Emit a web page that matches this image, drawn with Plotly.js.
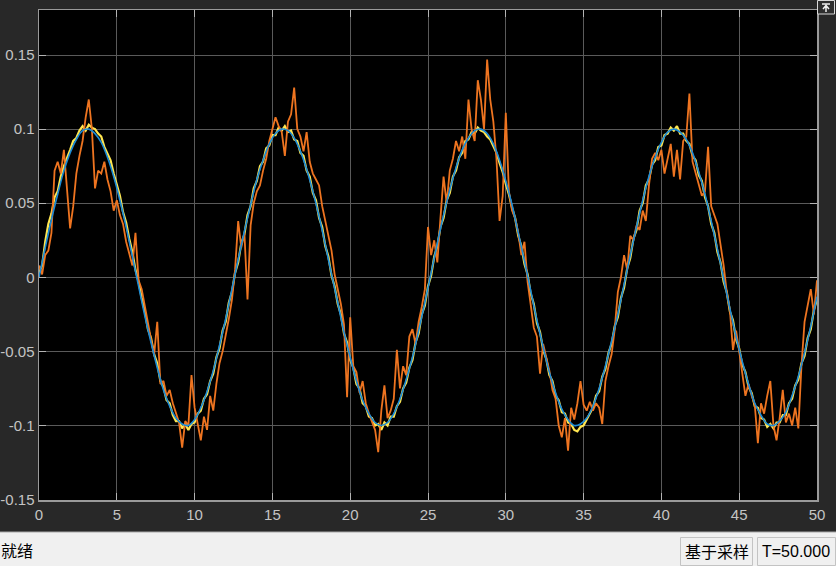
<!DOCTYPE html>
<html>
<head>
<meta charset="utf-8">
<script src="https://cdn.plot.ly/plotly-3.0.1.min.js"></script>
<style>
html,body{margin:0;padding:0;background:#282828;}
#chart{width:836px;height:566px;}
</style>
</head>
<body>
<div id="chart"></div>
<script>
// ---- data ----
const sampleStepFine = 0.2;   // time step of yellow & orange samples
const sampleStepBlue = 0.4;   // time step of the blue reference samples

const blueRef = [
 0.000,0.020,0.039,0.056,0.072,0.084,0.093,0.099,0.100,0.097,
 0.091,0.081,0.068,0.052,0.034,0.014,-0.006,-0.026,-0.044,-0.061,
 -0.076,-0.087,-0.095,-0.099,-0.100,-0.096,-0.088,-0.077,-0.063,-0.046,
 -0.028,-0.008,0.012,0.031,0.049,0.066,0.079,0.090,0.097,0.100,
 0.099,0.094,0.085,0.073,0.058,0.041,0.022,0.002,-0.017,-0.037,
 -0.054,-0.070,-0.083,-0.092,-0.098,-0.100,-0.098,-0.092,-0.082,-0.069,
 -0.054,-0.036,-0.017,0.003,0.023,0.042,0.059,0.074,0.086,0.094,
 0.099,0.100,0.097,0.090,0.079,0.065,0.049,0.030,0.011,-0.009,
 -0.029,-0.047,-0.064,-0.078,-0.089,-0.096,-0.100,-0.099,-0.095,-0.087,
 -0.075,-0.060,-0.043,-0.025,-0.005,0.015,0.034,0.052,0.068,0.081,
 0.091,0.098,0.100,0.098,0.093,0.084,0.071,0.056,0.038,0.019,
 -0.001,-0.021,-0.040,-0.057,-0.072,-0.085,-0.093,-0.099,-0.100,-0.097,
 -0.091,-0.080,-0.067,-0.051,-0.033,-0.013
];

const yellowEst = [
 0.003,0.008,0.024,0.036,0.043,0.054,0.058,0.068,0.075,0.080,
 0.086,0.092,0.094,0.099,0.102,0.099,0.103,0.101,0.100,0.097,
 0.095,0.088,0.084,0.079,0.070,0.063,0.055,0.044,0.037,0.026,
 0.017,0.005,-0.003,-0.014,-0.023,-0.035,-0.041,-0.052,-0.058,-0.070,
 -0.074,-0.083,-0.085,-0.093,-0.097,-0.097,-0.102,-0.099,-0.103,-0.099,
 -0.098,-0.092,-0.090,-0.082,-0.079,-0.070,-0.065,-0.054,-0.048,-0.036,
 -0.030,-0.017,-0.010,0.003,0.010,0.023,0.029,0.042,0.048,0.060,
 0.065,0.075,0.078,0.087,0.089,0.096,0.096,0.101,0.099,0.102,
 0.098,0.099,0.093,0.092,0.084,0.082,0.072,0.068,0.057,0.052,
 0.040,0.034,0.021,0.014,0.001,-0.006,-0.018,-0.025,-0.038,-0.044,
 -0.056,-0.061,-0.072,-0.075,-0.085,-0.087,-0.094,-0.095,-0.100,-0.099,
 -0.103,-0.098,-0.100,-0.094,-0.094,-0.087,-0.084,-0.075,-0.071,-0.061,
 -0.056,-0.044,-0.038,-0.025,-0.019,-0.006,0.001,0.014,0.021,0.034,
 0.040,0.052,0.057,0.068,0.072,0.081,0.084,0.092,0.093,0.098,
 0.097,0.101,0.099,0.098,0.095,0.093,0.088,0.084,0.077,0.071,
 0.063,0.056,0.047,0.040,0.028,0.021,0.009,0.002,-0.011,-0.018,
 -0.031,-0.037,-0.049,-0.055,-0.066,-0.070,-0.080,-0.083,-0.091,-0.092,
 -0.098,-0.099,-0.103,-0.104,-0.101,-0.100,-0.096,-0.092,-0.088,-0.080,
 -0.077,-0.067,-0.062,-0.051,-0.045,-0.033,-0.027,-0.014,-0.007,0.006,
 0.013,0.026,0.032,0.045,0.050,0.062,0.066,0.076,0.079,0.088,
 0.089,0.096,0.097,0.101,0.099,0.102,0.097,0.097,0.092,0.090,
 0.082,0.079,0.069,0.065,0.054,0.048,0.036,0.030,0.017,0.010,
 -0.003,-0.010,-0.023,-0.029,-0.042,-0.048,-0.059,-0.064,-0.074,-0.078,
 -0.087,-0.088,-0.095,-0.096,-0.101,-0.099,-0.102,-0.098,-0.098,-0.093,
 -0.093,-0.085,-0.082,-0.073,-0.069,-0.058,-0.053,-0.041,-0.035,-0.022,
 -0.015
];

const orangeMeas = [
 0.008,0.002,0.015,0.018,0.030,0.072,0.078,0.070,0.086,0.060,
 0.033,0.048,0.070,0.082,0.092,0.108,0.120,0.100,0.060,0.072,
 0.070,0.078,0.066,0.058,0.045,0.052,0.042,0.036,0.024,0.016,
 0.008,0.030,-0.002,-0.008,-0.020,-0.030,-0.042,-0.052,-0.030,-0.072,
 -0.070,-0.080,-0.076,-0.085,-0.092,-0.098,-0.115,-0.097,-0.100,-0.066,
 -0.088,-0.100,-0.110,-0.094,-0.103,-0.080,-0.090,-0.072,-0.058,-0.050,
 -0.040,-0.028,-0.015,0.005,0.038,0.020,0.030,-0.015,0.035,0.050,
 0.058,0.062,0.072,0.080,0.092,0.100,0.108,0.102,0.098,0.082,
 0.105,0.110,0.128,0.100,0.095,0.085,0.098,0.078,0.070,0.066,
 0.062,0.048,0.038,0.028,0.018,0.002,-0.008,-0.018,-0.032,-0.081,
 -0.027,-0.060,-0.064,-0.078,-0.070,-0.085,-0.092,-0.098,-0.103,-0.118,
 -0.090,-0.073,-0.095,-0.090,-0.082,-0.049,-0.075,-0.060,-0.066,-0.040,
 -0.035,-0.045,-0.030,-0.020,-0.008,0.034,0.015,0.025,0.010,0.040,
 0.068,0.050,0.072,0.080,0.092,0.085,0.095,0.080,0.120,0.100,
 0.092,0.133,0.120,0.100,0.147,0.120,0.105,0.080,0.038,0.055,
 0.111,0.058,0.045,0.040,0.030,0.015,0.024,-0.003,-0.020,-0.034,
 -0.040,-0.065,-0.045,-0.055,-0.063,-0.076,-0.082,-0.100,-0.108,-0.095,
 -0.117,-0.088,-0.096,-0.085,-0.070,-0.086,-0.090,-0.084,-0.090,-0.085,
 -0.088,-0.099,-0.070,-0.060,-0.052,-0.035,-0.010,0.000,0.015,0.005,
 0.028,0.025,0.035,0.032,0.045,0.038,0.062,0.080,0.084,0.079,
 0.086,0.070,0.080,0.090,0.068,0.086,0.066,0.092,0.095,0.124,
 0.078,0.070,0.062,0.055,0.058,0.088,0.048,0.042,0.036,0.022,
 0.008,-0.010,-0.022,-0.049,-0.036,-0.050,-0.065,-0.080,-0.072,-0.080,
 -0.086,-0.112,-0.085,-0.092,-0.080,-0.070,-0.100,-0.110,-0.095,-0.076,
 -0.098,-0.092,-0.100,-0.088,-0.102,-0.060,-0.030,-0.020,-0.008,-0.025,
 -0.002
];

const xTickVals = [0,5,10,15,20,25,30,35,40,45,50];
const xTickText = ['0','5','10','15','20','25','30','35','40','45','50'];
const yTickVals = [-0.15,-0.1,-0.05,0,0.05,0.1,0.15];
const yTickText = ['-0.15','-0.1','-0.05','0','0.05','0.1','0.15'];

const statusLeft = '就绪';
const statusMode = '基于采样';
const statusTime = 'T=50.000';

// ---- layout helpers (pixel -> paper) ----
const W = 836, H = 566, L = 39, R = 817, T = 10, B = 500;
const px = x => (x - L) / (R - L);
const py = y => (B - y) / (B - T);

const traces = [
  {type:'scatter', mode:'lines', x0:0, dx:sampleStepFine, y:yellowEst,
   line:{color:'#ffe650', width:2.2}, hoverinfo:'skip'},
  {type:'scatter', mode:'lines', x0:0, dx:sampleStepFine, y:orangeMeas,
   line:{color:'#ee7420', width:1.8}, hoverinfo:'skip'},
  {type:'scatter', mode:'lines', x0:0, dx:sampleStepBlue, y:blueRef,
   line:{color:'#1a8ad6', width:1.6, shape:'spline'}, hoverinfo:'skip'}
];

const iconPath = 'M' + px(822) + ',' + py(4) + ' L' + px(830) + ',' + py(4) +
  ' M' + px(826) + ',' + py(12) + ' L' + px(826) + ',' + py(6) +
  ' M' + px(823) + ',' + py(9) + ' L' + px(826) + ',' + py(5.5) + ' L' + px(829) + ',' + py(9);

const shapes = [
  // status bar
  {type:'rect', xref:'paper', yref:'paper', x0:px(0), x1:px(W), y0:py(H), y1:py(532),
   fillcolor:'#f0f0f0', line:{width:0}},
  {type:'line', xref:'paper', yref:'paper', x0:px(0), x1:px(W), y0:py(532), y1:py(532),
   line:{color:'#a8a8a8', width:1}},
  {type:'rect', xref:'paper', yref:'paper', x0:px(680.5), x1:px(752.5), y0:py(565.5), y1:py(537.5),
   line:{color:'#c3c3c3', width:1}},
  {type:'rect', xref:'paper', yref:'paper', x0:px(757.5), x1:px(835.5), y0:py(565.5), y1:py(537.5),
   line:{color:'#c3c3c3', width:1}},
  // restore icon top-right
  {type:'rect', xref:'paper', yref:'paper', x0:px(817.5), x1:px(834.5), y0:py(14), y1:py(0.5),
   fillcolor:'#2e2e2e', line:{color:'#d8d8d8', width:1}},
  {type:'path', xref:'paper', yref:'paper', path:iconPath, line:{color:'#f0f0f0', width:1.5}}
];

const annotations = [
  {xref:'paper', yref:'paper', x:px(-1), y:py(550), xanchor:'left', yanchor:'middle',
   text:statusLeft, showarrow:false, font:{family:'Noto Sans CJK SC', size:16, color:'#000'}},
  {xref:'paper', yref:'paper', x:px(716.5), y:py(551), xanchor:'center', yanchor:'middle',
   text:statusMode, showarrow:false, font:{family:'Noto Sans CJK SC', size:16, color:'#000'}},
  {xref:'paper', yref:'paper', x:px(796), y:py(551), xanchor:'center', yanchor:'middle',
   text:statusTime, showarrow:false, font:{family:'Liberation Sans, Arial', size:16, color:'#000'}}
];

const axisCommon = {
  showgrid:true, gridcolor:'#5a5a5a', gridwidth:1,
  zeroline:false, showline:true, mirror:'ticks', linecolor:'#9a9a9a', linewidth:1.5,
  ticks:'inside', ticklen:7, tickcolor:'#b4b4b4', tickwidth:1,
  tickfont:{family:'Liberation Sans, Arial', size:15, color:'#c4c4c4'},
  tickmode:'array', fixedrange:true
};

const layout = {
  width:W, height:H,
  margin:{l:L, r:W-R, t:T, b:H-B, pad:0},
  paper_bgcolor:'#282828', plot_bgcolor:'#000000',
  showlegend:false, hovermode:false,
  xaxis:Object.assign({}, axisCommon, {range:[0,50], tickvals:xTickVals, ticktext:xTickText}),
  yaxis:Object.assign({}, axisCommon, {range:[-0.1503,0.1804], tickvals:yTickVals, ticktext:yTickText}),
  shapes:shapes, annotations:annotations
};

Plotly.newPlot('chart', traces, layout, {displayModeBar:false, staticPlot:true});
</script>
</body>
</html>
